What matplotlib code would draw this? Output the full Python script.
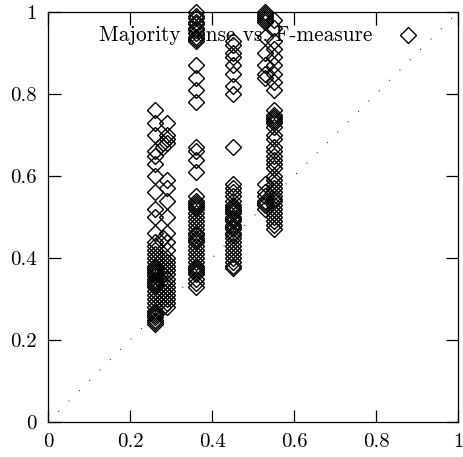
import matplotlib
matplotlib.use("Agg")
import matplotlib.pyplot as plt
import numpy as np

plt.rcParams['font.family'] = ['cmr10', 'DejaVu Serif']
plt.rcParams['axes.formatter.use_mathtext'] = True

label = "Majority sense vs. F-measure"

# column A
xa1 = 0.26
ya1 = [0.76, 0.73, 0.70, 0.66, 0.65, 0.63, 0.60, 0.56, 0.52, 0.50, 0.46, 0.44, 0.43,
       0.42, 0.41, 0.40, 0.39, 0.38, 0.375, 0.37, 0.365, 0.36, 0.355, 0.35, 0.345,
       0.34, 0.335, 0.33, 0.32, 0.31, 0.30, 0.29, 0.28, 0.27, 0.265, 0.26, 0.255,
       0.25, 0.245, 0.24]
xa2 = 0.28
ya2 = [0.68, 0.67, 0.45, 0.40, 0.38, 0.36, 0.34, 0.32, 0.30, 0.28]
xa3 = 0.29
ya3 = [0.73, 0.70, 0.69, 0.68, 0.59, 0.57, 0.54, 0.50, 0.46, 0.44, 0.42, 0.40, 0.39,
       0.38, 0.37, 0.36, 0.35, 0.34, 0.33, 0.32, 0.31, 0.30, 0.29, 0.28]
# column B
xb = 0.36
yb = [1.00, 0.99, 0.985, 0.975, 0.97, 0.96, 0.955, 0.95, 0.94, 0.935, 0.93, 0.87,
      0.84, 0.81, 0.78, 0.67, 0.66, 0.64, 0.61,
      0.55, 0.54, 0.535, 0.53, 0.525, 0.52, 0.51, 0.50, 0.49, 0.48, 0.47, 0.46,
      0.455, 0.45, 0.445, 0.44, 0.43, 0.42, 0.41, 0.40, 0.39, 0.38, 0.375, 0.37,
      0.365, 0.36, 0.35, 0.34, 0.33]
# column C
xc = 0.45
yc = [0.93, 0.92, 0.90, 0.89, 0.87, 0.85, 0.82, 0.80, 0.67,
      0.58, 0.57, 0.56, 0.55, 0.54, 0.53, 0.525, 0.52, 0.515, 0.51, 0.50, 0.495,
      0.49, 0.48, 0.475, 0.47, 0.46, 0.455, 0.45, 0.44, 0.43, 0.42, 0.41, 0.40,
      0.39, 0.38, 0.375]
# column D
xd1 = 0.53
yd1 = [1.0, 0.995, 0.99, 0.985, 0.98, 0.975, 0.94, 0.90, 0.87, 0.85, 0.84, 0.58,
       0.56, 0.55, 0.54, 0.535, 0.53, 0.52]
xd2 = 0.55
yd2 = [0.98, 0.96, 0.93, 0.91, 0.89, 0.87, 0.85, 0.83, 0.81, 0.76, 0.75, 0.745,
       0.74, 0.735, 0.73, 0.72, 0.70, 0.69, 0.67, 0.66, 0.65, 0.64, 0.63, 0.62,
       0.60, 0.59, 0.58, 0.57, 0.56, 0.55, 0.545, 0.54, 0.53, 0.52, 0.51, 0.50,
       0.49, 0.48, 0.47]

groups = [(xa1, ya1), (xa2, ya2), (xa3, ya3), (xb, yb), (xc, yc), (xd1, yd1), (xd2, yd2)]
xs = np.concatenate([[x] * len(y) for x, y in groups])
ys = np.concatenate([y for x, y in groups])

fig = plt.figure(figsize=(4.63, 4.57), dpi=100)
ax = fig.add_axes([48/463, 1 - 422/457, 410/463, 410/457])

ax.plot([0, 1], [0, 1], linestyle=(0, (0.7, 11)), color='#222222', linewidth=0.9)
msize = 8.6
ax.plot(xs, ys, linestyle='none', marker='D', markersize=msize,
        markerfacecolor='none', markeredgecolor='black', markeredgewidth=1.0,
        clip_on=False)

ax.set_xlim(0, 1)
ax.set_ylim(0, 1)
ticks = [0, 0.2, 0.4, 0.6, 0.8, 1]
ticklabels = ['0', '0.2', '0.4', '0.6', '0.8', '1']
ax.set_xticks(ticks)
ax.set_xticklabels(ticklabels)
ax.set_yticks(ticks)
ax.set_yticklabels(ticklabels)
ax.tick_params(direction='in', length=9, width=0.9, top=True, right=True,
               labelsize=15, pad=8)
for s in ax.spines.values():
    s.set_linewidth(0.9)

ax.text(0.79, 0.944, label, transform=ax.transAxes, ha='right', va='center',
        fontsize=15.4)
ax.plot([0.878], [0.944], transform=ax.transAxes, linestyle='none', marker='D',
        markersize=msize, markerfacecolor='none', markeredgecolor='black',
        markeredgewidth=1.0)

fig.savefig('out.png', dpi=100)
